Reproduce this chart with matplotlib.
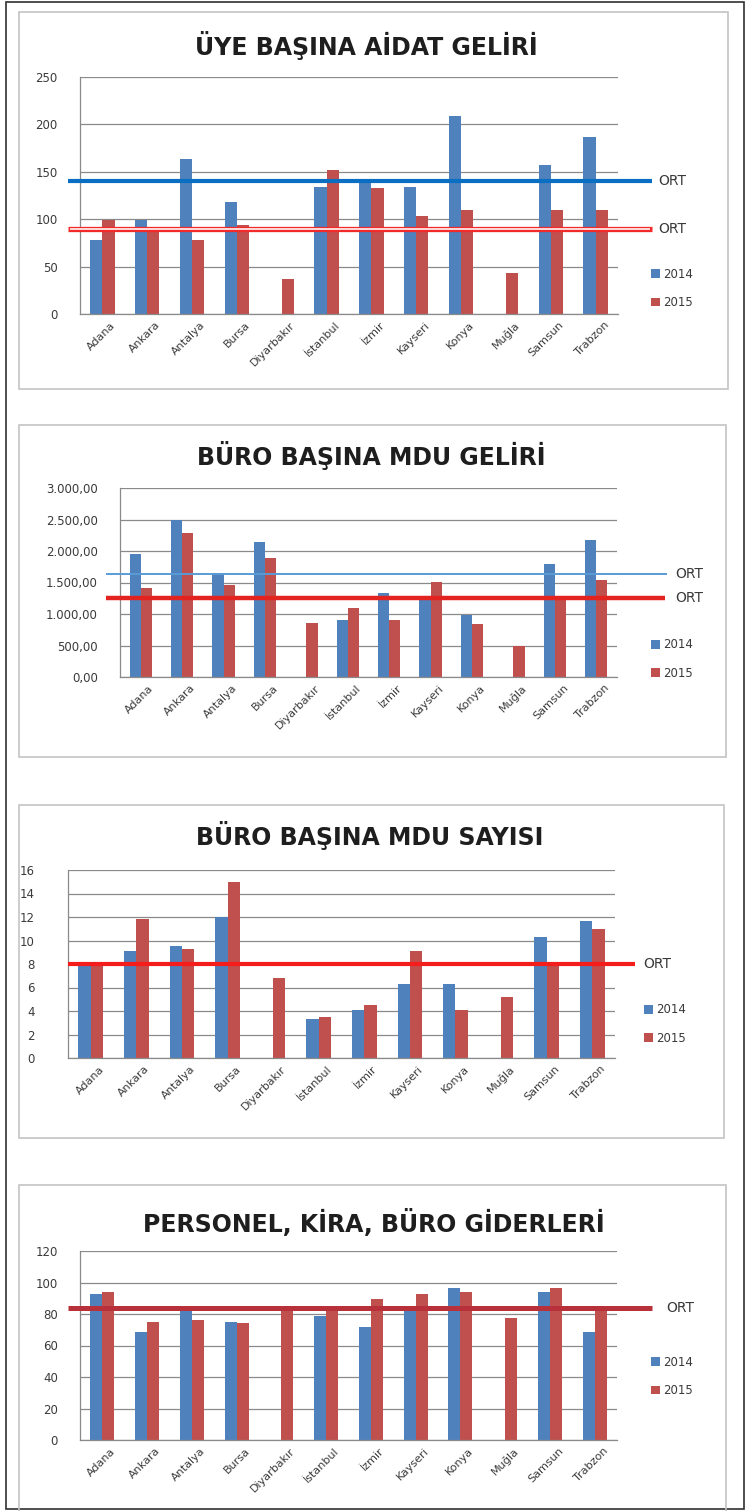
import matplotlib
matplotlib.use("Agg")
import matplotlib.pyplot as plt
from matplotlib.patches import Rectangle
import matplotlib.transforms as mtransforms
import numpy as np

plt.rcParams['font.family'] = ['DejaVu Sans']

W, H = 750, 1511

cities = ["Adana", "Ankara", "Antalya", "Bursa", "Diyarbakır", "İstanbul",
          "İzmir", "Kayseri", "Konya", "Muğla", "Samsun", "Trabzon"]
series_names = ["2014", "2015"]

# Chart 1: ÜYE BAŞINA AİDAT GELİRİ
aidat_2014 = [78, 99, 164, 118, 0, 134, 140, 134, 209, 0, 157, 187]
aidat_2015 = [99, 88, 78, 94, 37, 152, 133, 103, 110, 43, 110, 110]
aidat_ort = [140, 90]
aidat_ticks = [0, 50, 100, 150, 200, 250]

# Chart 2: BÜRO BAŞINA MDU GELİRİ
mdu_gelir_2014 = [1950, 2495, 1645, 2135, 0, 905, 1340, 1245, 980, 0, 1790, 2175]
mdu_gelir_2015 = [1420, 2280, 1460, 1885, 860, 1090, 905, 1515, 840, 495, 1225, 1540]
mdu_gelir_ort = [1630, 1248]
mdu_gelir_ticks = [0, 500, 1000, 1500, 2000, 2500, 3000]

# Chart 3: BÜRO BAŞINA MDU SAYISI
mdu_sayi_2014 = [8.1, 9.1, 9.5, 12.0, 0, 3.3, 4.1, 6.3, 6.3, 0, 10.3, 11.7]
mdu_sayi_2015 = [8.1, 11.8, 9.3, 15.0, 6.8, 3.5, 4.5, 9.1, 4.1, 5.2, 7.9, 11.0]
mdu_sayi_ort = [8.0]
mdu_sayi_ticks = [0, 2, 4, 6, 8, 10, 12, 14, 16]

# Chart 4: PERSONEL, KİRA, BÜRO GİDERLERİ
gider_2014 = [92.5, 68.5, 83.0, 75.0, 0, 79.0, 72.0, 83.5, 96.5, 0, 94.0, 68.5]
gider_2015 = [94.0, 75.0, 76.0, 74.5, 84.0, 84.0, 89.5, 92.5, 94.0, 77.5, 96.5, 82.5]
gider_ort = [83.5]
gider_ticks = [0, 20, 40, 60, 80, 100, 120]

titles = ["ÜYE BAŞINA AİDAT GELİRİ", "BÜRO BAŞINA MDU GELİRİ",
          "BÜRO BAŞINA MDU SAYISI", "PERSONEL, KİRA, BÜRO GİDERLERİ"]

BLUE = "#4F81BD"
RED = "#C0504D"
GRID = "#8a8a8a"
TXT = "#3a3a3a"

fig = plt.figure(figsize=(W / 100, H / 100), dpi=100)
fig.patch.set_facecolor("white")


def fx(x):
    return x / W


def fy(y):
    return 1 - y / H


# outer frame
fig.add_artist(Rectangle((fx(6), fy(1509)), fx(738), (1507) / H, transform=fig.transFigure,
                         fill=False, edgecolor="#303030", lw=1.2))

# chart boxes
boxes = [(19, 12, 728, 389), (19, 425, 726, 757), (19, 805, 724, 1138), (19, 1185, 726, 1530)]
for (x0, y0, x1, y1) in boxes:
    fig.add_artist(Rectangle((fx(x0), fy(y1)), fx(x1 - x0), (y1 - y0) / H,
                             transform=fig.transFigure, fill=False,
                             edgecolor="#c4c4c4", lw=1.2))

charts = [
    dict(d14=aidat_2014, d15=aidat_2015, ticks=aidat_ticks, area=(80, 77, 618, 314),
         title_xy=(366, 45), fmt=lambda v: f"{v:g}", pad=16,
         lines=[dict(v=aidat_ort[0], c="#0A6FC2", lw=3.0, x0=68, x1=652, style="solid"),
                dict(v=aidat_ort[1], c="#F22A2A", lw=3.8, x0=68, x1=652, style="hollow")],
         ort_x=658, leg=(651, 275, 302)),
    dict(d14=mdu_gelir_2014, d15=mdu_gelir_2015, ticks=mdu_gelir_ticks, area=(120, 488, 617, 677),
         title_xy=(371, 455), fmt=lambda v: f"{v:,.2f}".replace(",", "X").replace(".", ",").replace("X", "."),
         pad=16,
         lines=[dict(v=mdu_gelir_ort[0], c="#5B9BD5", lw=1.4, x0=106, x1=667, style="solid"),
                dict(v=mdu_gelir_ort[1], c="#E3231F", lw=3.2, x0=106, x1=665, style="solid")],
         ort_x=675, leg=(651, 645, 673)),
    dict(d14=mdu_sayi_2014, d15=mdu_sayi_2015, ticks=mdu_sayi_ticks, area=(68, 870, 615, 1058),
         title_xy=(370, 835), fmt=lambda v: f"{v:g}", pad=24,
         lines=[dict(v=mdu_sayi_ort[0], c="#F51C1C", lw=3.0, x0=68, x1=635, style="solid")],
         ort_x=643, leg=(644, 1010, 1038)),
    dict(d14=gider_2014, d15=gider_2015, ticks=gider_ticks, area=(80, 1251, 617, 1440),
         title_xy=(374, 1223), fmt=lambda v: f"{v:g}", pad=16,
         lines=[dict(v=gider_ort[0], c="#B8303A", lw=3.6, x0=68, x1=652, style="solid")],
         ort_x=666, leg=(651, 1363, 1390)),
]

x = np.arange(len(cities))
bw = 0.27

for i, ch in enumerate(charts):
    x0, y0, x1, y1 = ch["area"]
    ax = fig.add_axes([fx(x0), fy(y1), fx(x1 - x0), (y1 - y0) / H])
    b1 = ax.bar(x - bw / 2, ch["d14"], bw, color=BLUE, zorder=2, label=series_names[0])
    b2 = ax.bar(x + bw / 2, ch["d15"], bw, color=RED, zorder=2, label=series_names[1])
    ax.set_xlim(-0.5, len(cities) - 0.5)
    ax.set_ylim(ch["ticks"][0], ch["ticks"][-1])
    ax.set_yticks(ch["ticks"])
    ax.set_yticklabels([ch["fmt"](t) for t in ch["ticks"]])
    ax.yaxis.grid(True, color=GRID, lw=0.9, zorder=0)
    ax.set_axisbelow(True)
    for s in ["top", "right"]:
        ax.spines[s].set_visible(False)
    for s in ["left", "bottom"]:
        ax.spines[s].set_color(GRID)
        ax.spines[s].set_linewidth(0.9)
    ax.tick_params(axis="y", length=0, pad=ch["pad"], labelsize=8.5, labelcolor=TXT)
    ax.tick_params(axis="x", length=0)
    ax.set_xticks(x)
    ax.set_xticklabels([])
    offset = mtransforms.ScaledTranslation(8 / 100, -6 / 100, fig.dpi_scale_trans)
    for xi, name in zip(x, cities):
        ax.text(xi, 0, name, rotation=45, ha="right", va="top", rotation_mode="anchor",
                fontsize=8, color=TXT,
                transform=ax.transData + offset, clip_on=False)
    # average lines
    width = x1 - x0
    bl = mtransforms.blended_transform_factory(ax.transAxes, ax.transData)
    for ln in ch["lines"]:
        xa = (ln["x0"] - x0) / width
        xb = (ln["x1"] - x0) / width
        ax.plot([xa, xb], [ln["v"], ln["v"]], color=ln["c"], lw=ln["lw"],
                transform=bl, clip_on=False, zorder=4, solid_capstyle="butt")
        if ln["style"] == "hollow":
            ax.plot([xa + 0.004, xb - 0.004], [ln["v"], ln["v"]], color="#ffe8e8", lw=1.3,
                    transform=bl, clip_on=False, zorder=5, solid_capstyle="butt")
        ax.text((ch["ort_x"] - x0) / width, ln["v"], "ORT", transform=bl, ha="left",
                va="center", fontsize=10, color=TXT, clip_on=False)
    # legend
    lx, ly1, ly2 = ch["leg"]
    leg = ax.legend(handles=[b1, b2], loc="center left",
                    bbox_to_anchor=(fx(lx), fy((ly1 + ly2) / 2)),
                    bbox_transform=fig.transFigure, frameon=False, fontsize=8.5,
                    handlelength=0.75, handleheight=0.75, handletextpad=0.25,
                    labelspacing=1.3, borderpad=0, borderaxespad=0)
    for t in leg.get_texts():
        t.set_color(TXT)
    # title
    tx, ty = ch["title_xy"]
    fig.text(fx(tx), fy(ty), titles[i], ha="center", va="center",
             fontsize=17, fontweight="bold", color="#1e1e1e")

fig.savefig("out.png", dpi=100, facecolor="white")
